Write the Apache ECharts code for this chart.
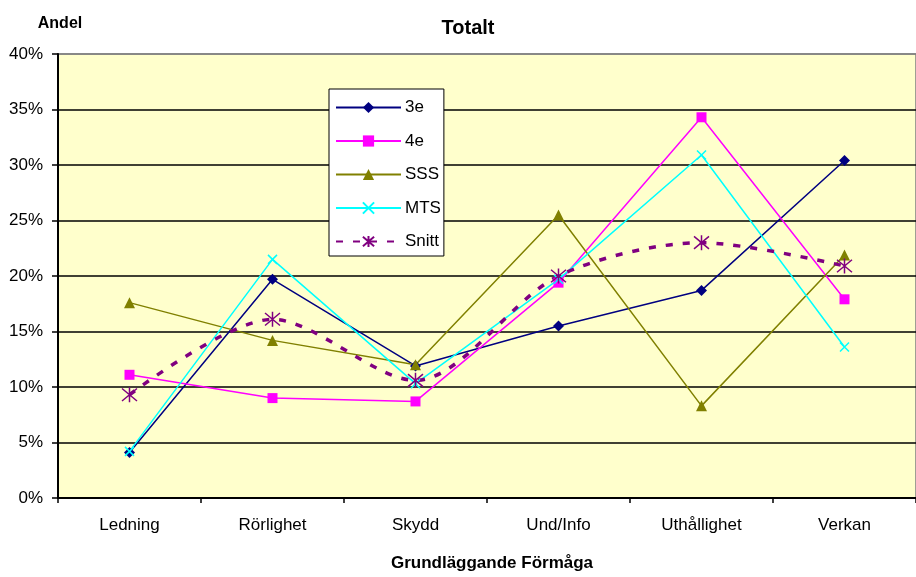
<!DOCTYPE html>
<html>
<head>
<meta charset="utf-8">
<script src="https://cdn.jsdelivr.net/npm/echarts@6/dist/echarts.min.js"></script>
<style>
  html, body { margin: 0; padding: 0; background: #fff; }
  #chart { width: 916px; height: 577px; }
</style>
</head>
<body>
<div id="chart"></div>
<script>
// Categories along the x axis
const categories = ['Ledning', 'Rörlighet', 'Skydd', 'Und/Info', 'Uthållighet', 'Verkan'];

// Share per group (percent)
const values3e    = [4.1, 19.7, 11.9, 15.5, 18.7, 30.4];
const values4e    = [11.1, 9.0, 8.7, 19.4, 34.3, 17.9];
const valuesSSS   = [17.6, 14.2, 12.0, 25.5, 8.3, 21.9];
const valuesMTS   = [4.2, 21.5, 10.3, 19.7, 30.9, 13.6];
const valuesSnitt = [9.3, 16.1, 10.6, 20.0, 23.0, 20.9];

// Y axis range and step
const yMin = 0, yMax = 40, yStep = 5;

const FONT = '"Liberation Sans", Arial, sans-serif';

// Stroke-only marker shapes
const crossPath = 'path://M0,0L10,10M10,0L0,10';
const starPath = 'path://M0,0L10,10M10,0L0,10M5,-1L5,11';

const chart = echarts.init(document.getElementById('chart'), null, { renderer: 'canvas' });

function lineSeries(name, data, color, symbol, size, extra) {
  return Object.assign({
    name: name,
    type: 'line',
    data: data,
    symbol: symbol,
    symbolSize: size,
    showAllSymbol: true,
    lineStyle: { color: color, width: 1.5 },
    itemStyle: { color: color, borderColor: color, borderWidth: 0 },
    emphasis: { disabled: true },
    z: 3
  }, extra || {});
}

// Split lines: black, except the top one which is the grey frame edge
const splitColors = [];
for (let v = yMin; v < yMax; v += yStep) splitColors.push('#000000');
splitColors.push('#808080');

chart.setOption({
  animation: false,
  backgroundColor: '#ffffff',
  textStyle: { fontFamily: FONT },
  title: [
    {
      text: 'Totalt',
      left: 463, top: 13,
      textAlign: 'center',
      textStyle: { fontFamily: FONT, fontSize: 20, fontWeight: 'bold', color: '#000' }
    },
    {
      text: 'Andel',
      left: 55, top: 11,
      textAlign: 'center',
      textStyle: { fontFamily: FONT, fontSize: 16, fontWeight: 'bold', color: '#000' }
    }
  ],
  legend: {
    orient: 'vertical',
    left: 329, top: 89,
    padding: [10, 3, 6, 6],
    itemGap: 16.5,
    itemWidth: 65,
    itemHeight: 14,
    backgroundColor: '#ffffff',
    borderColor: '#000000',
    borderWidth: 1,
    selectedMode: false,
    textStyle: { fontFamily: FONT, fontSize: 17, color: '#000', padding: [0, 0, 0, -1] },
    data: ['3e', '4e', 'SSS', 'MTS', 'Snitt']
  },
  grid: {
    left: 58, right: 0, top: 54, bottom: 74,
    show: true,
    backgroundColor: '#FFFFCC',
    borderColor: '#808080',
    borderWidth: 1.5
  },
  xAxis: {
    type: 'category',
    data: categories,
    boundaryGap: true,
    name: 'Grundläggande Förmåga',
    nameLocation: 'middle',
    nameGap: 57,
    nameTextStyle: { fontFamily: FONT, fontSize: 17, fontWeight: 'bold', color: '#000', padding: [0, 0, 0, 10] },
    axisLine: { show: true, lineStyle: { color: '#000', width: 2 } },
    axisTick: { show: true, alignWithLabel: false, interval: 0, length: 5, inside: false, lineStyle: { color: '#000', width: 1.5 } },
    axisLabel: { fontFamily: FONT, fontSize: 17, color: '#000', margin: 19, interval: 0 },
    splitLine: { show: false }
  },
  yAxis: {
    type: 'value',
    min: yMin, max: yMax, interval: yStep,
    axisLine: { show: true, lineStyle: { color: '#000', width: 2 } },
    axisTick: { show: true, length: 6, lineStyle: { color: '#000', width: 1.5 } },
    axisLabel: { fontFamily: FONT, fontSize: 17, color: '#000', margin: 15, formatter: '{value}%' },
    splitLine: { show: true, lineStyle: { color: splitColors, width: 1.5 } }
  },
  series: [
    lineSeries('3e', values3e, '#000080', 'diamond', 11),
    lineSeries('4e', values4e, '#FF00FF', 'rect', 10),
    lineSeries('SSS', valuesSSS, '#808000', 'triangle', 11),
    lineSeries('MTS', valuesMTS, '#00FFFF', crossPath, 9, {
      itemStyle: { color: 'none', borderColor: '#00FFFF', borderWidth: 1.5 }
    }),
    lineSeries('Snitt', valuesSnitt, '#800080', starPath, 15, {
      smooth: 0.3,
      lineStyle: { color: '#800080', width: 3.5, type: [7, 10] },
      itemStyle: { color: 'none', borderColor: '#800080', borderWidth: 1.5 }
    })
  ]
});
</script>
</body>
</html>
